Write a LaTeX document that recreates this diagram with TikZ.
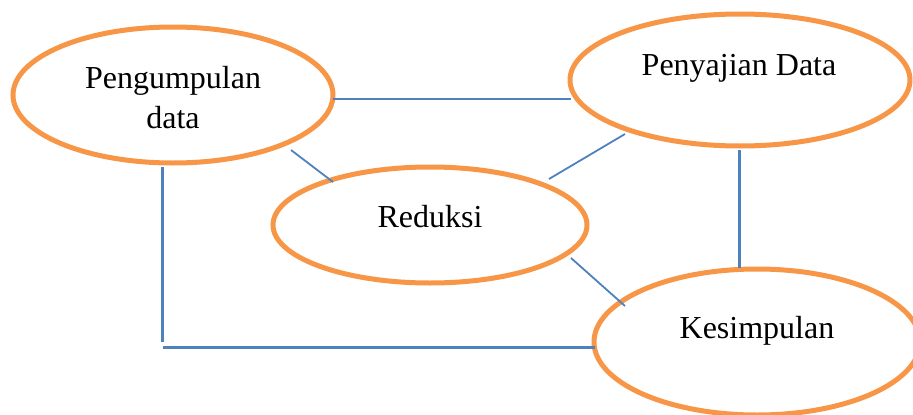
\documentclass[tikz,border=0pt]{standalone}
\usepackage{fontspec}
\setmainfont{Liberation Serif}
\usetikzlibrary{shapes.geometric}
\definecolor{ovalorange}{HTML}{F79646}
\definecolor{linkblue}{HTML}{4F81BD}
\begin{document}
\begin{tikzpicture}[x=1pt,y=-1pt,
  oval/.style={ellipse, draw=ovalorange, line width=5pt, inner sep=0pt, fill=none},
  lbl/.style={font=\fontsize{32}{40}\selectfont, align=center, anchor=base, inner sep=0pt},
  link/.style={draw=linkblue, line width=2.2pt}]
\useasboundingbox (0,0) rectangle (913,415);
\node[oval, minimum width=320, minimum height=136] (pd) at (173,95) {};
\node[oval, minimum width=340, minimum height=132] (pj) at (740,80) {};
\node[oval, minimum width=314, minimum height=116] (rd) at (430,225) {};
\node[oval, minimum width=326, minimum height=146] (ks) at (757,342) {};
\node[lbl] (tpd) at (173,128) {Pengumpulan\\data};
\node[lbl] (tpj) at (739,75) {Penyajian Data};
\node[lbl] (trd) at (430,227) {Reduksi};
\node[lbl] (tks) at (757,338) {Kesimpulan};
\coordinate (a1) at (333,99);
\coordinate (a2) at (571,99);
\coordinate (b1) at (291,150);
\coordinate (b2) at (333,182);
\coordinate (c1) at (549,179);
\coordinate (c2) at (625,134);
\coordinate (d1) at (739,150);
\coordinate (d2) at (739,268);
\coordinate (e1) at (571,258);
\coordinate (e2) at (625,306);
\coordinate (f1) at (162,167);
\coordinate (f2) at (162,342);
\coordinate (g1) at (163,347);
\coordinate (g2) at (595,347);
\draw[link] (a1) -- (a2);
\draw[link, line width=1.8pt] (b1) -- (b2);
\draw[link, line width=1.8pt] (c1) -- (c2);
\draw[link, line width=3pt] (d1) -- (d2);
\draw[link, line width=1.8pt] (e1) -- (e2);
\draw[link, line width=3pt] (f1) -- (f2);
\draw[link, line width=3pt] (g1) -- (g2);
\end{tikzpicture}
\end{document}
